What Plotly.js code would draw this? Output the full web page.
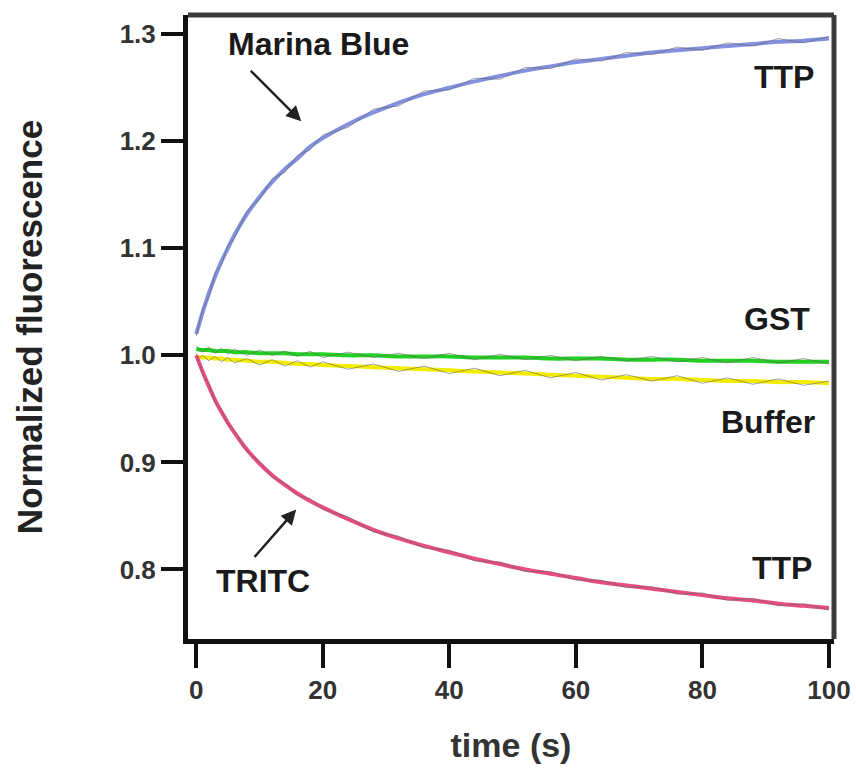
<!DOCTYPE html>
<html>
<head>
<meta charset="utf-8">
<script src="https://cdn.plot.ly/plotly-3.0.1.min.js"></script>
<style>html,body{margin:0;padding:0;background:#fff;}#chart{width:856px;height:768px;}</style>
</head>
<body>
<div id="chart"></div>
<script>
// time points (s)
var timeS = [0,1,2,3,4,5,6,8,10,12,14,16,18,20,24,28,32,36,40,44,48,52,56,60,64,68,72,76,80,84,88,92,96,100];

// Marina Blue + TTP (fit line and raw readings)
var marinaFit = [1.020,1.040,1.058,1.074,1.088,1.100,1.112,1.132,1.148,1.162,1.174,1.184,1.195,1.203,1.216,1.227,1.236,1.244,1.250,1.256,1.261,1.266,1.270,1.274,1.277,1.280,1.283,1.285,1.287,1.289,1.291,1.293,1.294,1.296];
var marinaRaw = [1.018,1.043,1.055,1.077,1.085,1.103,1.109,1.135,1.146,1.165,1.171,1.187,1.192,1.206,1.213,1.230,1.233,1.247,1.248,1.259,1.258,1.269,1.268,1.277,1.275,1.283,1.281,1.288,1.285,1.292,1.289,1.296,1.292,1.298];

// TRITC + TTP
var tritcFit = [1.000,0.985,0.971,0.958,0.947,0.937,0.928,0.912,0.899,0.888,0.879,0.871,0.864,0.858,0.847,0.837,0.829,0.822,0.816,0.810,0.805,0.800,0.796,0.792,0.788,0.785,0.782,0.779,0.776,0.773,0.771,0.768,0.766,0.764];
var tritcRaw = [1.002,0.983,0.973,0.956,0.949,0.935,0.930,0.910,0.901,0.886,0.881,0.869,0.866,0.856,0.849,0.835,0.831,0.820,0.818,0.808,0.807,0.798,0.798,0.790,0.790,0.783,0.784,0.777,0.778,0.771,0.773,0.766,0.768,0.762];

// GST
var gstFit = [1.006,1.005,1.005,1.004,1.004,1.004,1.003,1.003,1.002,1.002,1.002,1.001,1.001,1.001,1.000,1.000,0.999,0.999,0.999,0.998,0.998,0.998,0.997,0.997,0.997,0.996,0.996,0.996,0.995,0.995,0.995,0.994,0.994,0.994];
var gstRaw = [1.009,1.003,1.008,1.002,1.007,1.001,1.006,1.000,1.005,1.000,1.004,0.999,1.004,0.998,1.003,0.998,1.002,0.997,1.002,0.996,1.001,0.996,1.000,0.995,0.999,0.995,0.999,0.994,0.998,0.993,0.998,0.993,0.997,0.992];

// Buffer
var bufferFit = [0.999,0.998,0.998,0.997,0.997,0.996,0.996,0.995,0.994,0.994,0.993,0.992,0.992,0.991,0.990,0.989,0.988,0.987,0.986,0.985,0.984,0.983,0.982,0.981,0.980,0.979,0.978,0.978,0.977,0.976,0.976,0.975,0.975,0.974];
var bufferRaw = [0.996,1.000,0.995,0.999,0.994,0.998,0.993,0.997,0.991,0.996,0.990,0.995,0.989,0.994,0.987,0.992,0.985,0.990,0.983,0.988,0.981,0.986,0.979,0.984,0.977,0.982,0.976,0.981,0.974,0.979,0.973,0.978,0.972,0.976];

var fnt = 'Liberation Sans, Arial, sans-serif';

function raw(y){
  return {x: timeS, y: y, mode: 'lines', line: {color: 'rgba(100,100,100,0.6)', width: 1}, hoverinfo: 'skip', showlegend: false};
}
function fit(y, c, w){
  return {x: timeS, y: y, mode: 'lines', line: {color: c, width: w, shape: 'spline'}, showlegend: false};
}

var data = [
  fit(bufferFit, '#f2ec00', 4), raw(bufferRaw),
  fit(gstFit, '#22d022', 4), raw(gstRaw),
  fit(marinaFit, '#8390e0', 4), raw(marinaRaw),
  fit(tritcFit, '#e84d82', 4), raw(tritcRaw)
];

var lab = {family: fnt, size: 32, color: '#1a1a1a', weight: 'bold'};

var layout = {
  width: 856, height: 768,
  margin: {l: 188, r: 22, t: 15, b: 129},
  paper_bgcolor: '#fff', plot_bgcolor: '#fff',
  showlegend: false,
  xaxis: {
    range: [-1.3, 100.8], tickvals: [0,20,40,60,80,100], ticktext: ['0','20','40','60','80','100'],
    showgrid: false, zeroline: false, showline: true, mirror: false, linecolor: '#111', linewidth: 5,
    ticks: 'outside', ticklen: 24, tickwidth: 4, tickcolor: '#111',
    tickfont: {family: fnt, size: 26, color: '#333', weight: 'bold'},
    title: {text: 'time (s)', font: {family: fnt, size: 34, color: '#333', weight: 'bold'}, standoff: 30}
  },
  yaxis: {
    range: [0.735, 1.318], tickvals: [0.8,0.9,1.0,1.1,1.2,1.3], ticktext: ['0.8','0.9','1.0','1.1','1.2','1.3'],
    showgrid: false, zeroline: false, showline: true, mirror: false, linecolor: '#111', linewidth: 5,
    ticks: 'outside', ticklen: 22, tickwidth: 4, tickcolor: '#111',
    tickfont: {family: fnt, size: 26, color: '#333', weight: 'bold'},
    title: {text: 'Normalized fluorescence', font: {family: fnt, size: 35, color: '#222', weight: 'bold'}, standoff: 68}
  },
  shapes: [
    {type: 'line', xref: 'paper', yref: 'paper', x0: 0, x1: 1, y0: 1, y1: 1, line: {color: '#3a3a3a', width: 5}},
    {type: 'line', xref: 'paper', yref: 'paper', x0: 1, x1: 1, y0: 0, y1: 1, line: {color: '#3a3a3a', width: 5}}
  ],
  annotations: [
    {x: 19.3, y: 1.291, text: 'Marina Blue', showarrow: false, font: lab},
    {x: 16.6, y: 1.2187, text: '', showarrow: true, ax: -52, ay: -52, arrowhead: 2, arrowsize: 1.2, arrowwidth: 2.5, arrowcolor: '#222'},
    {x: 92.9, y: 1.260, text: 'TTP', showarrow: false, font: lab},
    {x: 91.8, y: 1.034, text: 'GST', showarrow: false, font: lab},
    {x: 90.3, y: 0.938, text: 'Buffer', showarrow: false, font: lab},
    {x: 10.6, y: 0.789, text: 'TRITC', showarrow: false, font: lab},
    {x: 15.8, y: 0.856, text: '', showarrow: true, ax: -43, ay: 49, arrowhead: 2, arrowsize: 1.2, arrowwidth: 2.5, arrowcolor: '#222'},
    {x: 92.6, y: 0.801, text: 'TTP', showarrow: false, font: lab}
  ]
};

Plotly.newPlot('chart', data, layout, {displayModeBar: false, staticPlot: true});
</script>
</body>
</html>
